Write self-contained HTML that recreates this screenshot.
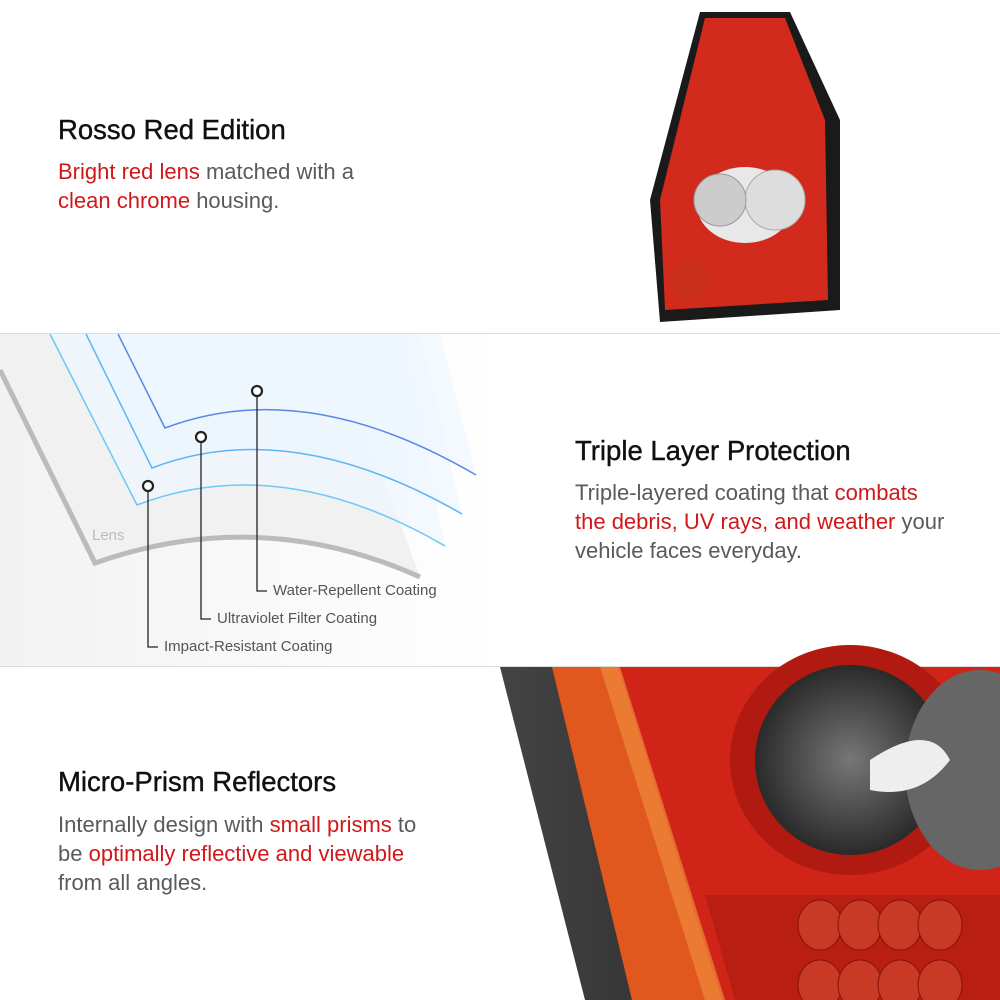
<!DOCTYPE html>
<html><head><style>
body{margin:0;width:1000px;height:1000px;overflow:hidden;background:#fff;font-family:"Liberation Sans",sans-serif;}
.t{position:absolute;font-size:27.5px;color:#111;-webkit-text-stroke:0.4px #111;}
.b{position:absolute;font-size:22px;line-height:29px;color:#5a5a5a;}
.r{color:#d0181a;}
.l{position:absolute;font-size:15px;color:#555;}
</style></head><body>
<svg width="1000" height="1000" style="position:absolute;left:0;top:0">
<defs>
<linearGradient id="bg2" x1="0" x2="1"><stop offset="0" stop-color="#f2f2f2"/><stop offset="0.5" stop-color="#fff"/></linearGradient>
<linearGradient id="dk" x1="0" x2="1"><stop offset="0" stop-color="#444"/><stop offset="1" stop-color="#111"/></linearGradient>
<radialGradient id="lensg" cx="0.5" cy="0.5" r="0.5"><stop offset="0" stop-color="#777"/><stop offset="1" stop-color="#2a2a2a"/></radialGradient>
</defs>
<rect x="0" y="333" width="1000" height="333" fill="url(#bg2)"/>
<line x1="0" y1="333.5" x2="1000" y2="333.5" stroke="#ddd"/>
<line x1="0" y1="666.5" x2="1000" y2="666.5" stroke="#ddd"/>
<path d="M0,334 L0,370 L95,563 Q260,505 420,577 L330,334 Z" fill="#f1f1f1"/>
<path d="M0,370 L95,563 Q260,505 420,577" fill="none" stroke="#bbb" stroke-width="5"/>
<path d="M50,334 L137,505 Q280,450 445,546 L400,334Z" fill="#eef7fd" opacity="0.7"/>
<path d="M86,334 L152,468 Q290,415 462,514 L420,334Z" fill="#eef7fd" opacity="0.7"/>
<path d="M118,334 L165,428 Q305,375 476,475 L440,334Z" fill="#eef7fd" opacity="0.7"/>
<path d="M50,334 L137,505 Q280,450 445,546" fill="none" stroke="#6cc8f5" stroke-width="1.5"/>
<path d="M86,334 L152,468 Q290,415 462,514" fill="none" stroke="#5cb6f3" stroke-width="1.5"/>
<path d="M118,334 L165,428 Q305,375 476,475" fill="none" stroke="#5a86ea" stroke-width="1.5"/>
<g fill="none" stroke="#222" stroke-width="1.3">
<path d="M148,486 V647 H158"/><path d="M201,437 V619 H211"/><path d="M257,391 V591 H267"/>
</g>
<g fill="#fff" stroke="#222" stroke-width="2.2">
<circle cx="148" cy="486" r="5"/><circle cx="201" cy="437" r="5"/><circle cx="257" cy="391" r="5"/>
</g>
<path d="M700,12 L790,12 L840,120 L840,310 L660,322 L650,200 Z" fill="#1a1a1a"/>
<path d="M705,18 L785,18 L825,120 L828,300 L665,310 L660,200 Z" fill="#d22a1c"/>
<ellipse cx="745" cy="205" rx="48" ry="38" fill="#e8e8e8"/>
<circle cx="775" cy="200" r="30" fill="#ddd" stroke="#aaa"/>
<circle cx="720" cy="200" r="26" fill="#ccc" stroke="#999"/>
<circle cx="690" cy="280" r="20" fill="#c8301c"/>
<path d="M500,667 L1000,667 L1000,1000 L585,1000 Z" fill="url(#dk)"/>
<path d="M552,667 L1000,667 L1000,1000 L632,1000 Z" fill="#d02418"/>
<path d="M552,667 L618,667 L722,1000 L632,1000 Z" fill="#e0581e"/>
<path d="M600,667 L620,667 L725,1000 L705,1000 Z" fill="#f08a3a" opacity="0.7"/>
<path d="M705,895 L1000,895 L1000,1000 L735,1000 Z" fill="#b81e12"/>
<g fill="#c83a26" stroke="#8a1208"><ellipse cx="820" cy="925" rx="22" ry="25"/><ellipse cx="860" cy="925" rx="22" ry="25"/><ellipse cx="900" cy="925" rx="22" ry="25"/><ellipse cx="940" cy="925" rx="22" ry="25"/><ellipse cx="820" cy="985" rx="22" ry="25"/><ellipse cx="860" cy="985" rx="22" ry="25"/><ellipse cx="900" cy="985" rx="22" ry="25"/><ellipse cx="940" cy="985" rx="22" ry="25"/></g>
<ellipse cx="850" cy="760" rx="120" ry="115" fill="#b01a10"/>
<ellipse cx="850" cy="760" rx="95" ry="95" fill="url(#lensg)"/>
<ellipse cx="980" cy="770" rx="75" ry="100" fill="#666"/>
<path d="M870,760 Q930,720 950,760 Q920,800 870,790Z" fill="#eee"/>
</svg>
<div class="t" style="left:58px;top:114px">Rosso Red Edition</div>
<div class="b" style="left:58px;top:157px"><span class="r">Bright red lens</span> matched with a<br><span class="r">clean chrome</span> housing.</div>
<div class="t" style="left:575px;top:435px">Triple Layer Protection</div>
<div class="b" style="left:575px;top:478px">Triple-layered coating that <span class="r">combats<br>the debris, UV rays, and weather</span> your<br>vehicle faces everyday.</div>
<div class="t" style="left:58px;top:766px">Micro-Prism Reflectors</div>
<div class="b" style="left:58px;top:810px">Internally design with <span class="r">small prisms</span> to<br>be <span class="r">optimally reflective and viewable</span><br>from all angles.</div>
<div class="l" style="left:92px;top:527px;color:#bbb">Lens</div>
<div class="l" style="left:273px;top:582px">Water-Repellent Coating</div>
<div class="l" style="left:217px;top:610px">Ultraviolet Filter Coating</div>
<div class="l" style="left:164px;top:638px">Impact-Resistant Coating</div>
</body></html>
